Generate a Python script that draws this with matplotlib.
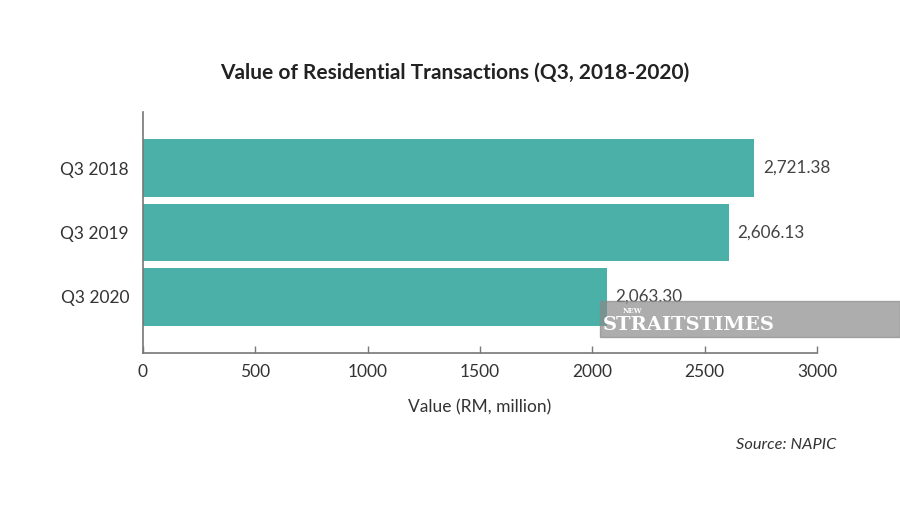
import matplotlib.pyplot as plt
from matplotlib.patches import Rectangle

plt.rcParams['font.family'] = ['Lato', 'DejaVu Sans']

quarters = ["Q3 2018", "Q3 2019", "Q3 2020"]
values = [2721.38, 2606.13, 2063.30]
value_labels = ["2,721.38", "2,606.13", "2,063.30"]
xticks = [0, 500, 1000, 1500, 2000, 2500, 3000]

bar_color = "#4AB0A8"
text_color = "#333333"

fig = plt.figure(figsize=(9, 5.14), dpi=100)
ax = fig.add_axes([143/900, 1 - 353/514, (817 - 143)/900, (353 - 112)/514])

ypos = list(range(len(quarters)))
ax.barh(ypos, values, height=0.9, color=bar_color)

for y, v, lab in zip(ypos, values, value_labels):
    ax.text(v + 40, y, lab, va="center", ha="left", fontsize=12.3, color="#444444")

ax.set_yticks(ypos)
ax.set_yticklabels(quarters, fontsize=12.5, color=text_color)
ax.set_ylim(2.87, -0.87)
ax.set_xlim(0, 3000)
ax.set_xticks(xticks)
ax.set_xticklabels([str(t) for t in xticks], fontsize=12.5, color=text_color)

ax.tick_params(axis="y", length=0, pad=10)
ax.tick_params(axis="x", direction="in", length=5, width=1, color="#777777", pad=8)

for s in ["top", "right"]:
    ax.spines[s].set_visible(False)
for s in ["left", "bottom"]:
    ax.spines[s].set_color("#777777")
    ax.spines[s].set_linewidth(1.2)

ax.set_xlabel("Value (RM, million)", fontsize=12.5, color=text_color, labelpad=14)

fig.text(455/900, 1 - 73/514, "Value of Residential Transactions (Q3, 2018-2020)",
         ha="center", va="center", fontsize=15, fontweight="bold", color="#222222")
fig.text(836/900, 1 - 445/514, "Source: NAPIC", ha="right", va="center",
         fontsize=11.8, style="italic", color=text_color)

# watermark
fig.patches.append(Rectangle((600/900, 1 - 337/514), 300/900, 36/514,
                             transform=fig.transFigure, color="#8a8a8a", alpha=0.7,
                             zorder=5))
fig.text(603/900, 1 - 325/514, "STRAITSTIMES", ha="left", va="center",
         fontsize=14, fontweight="bold", family="DejaVu Serif", color="white", zorder=6)
fig.text(623/900, 1 - 311/514, "NEW", ha="left", va="center",
         fontsize=5, fontweight="bold", family="DejaVu Serif", color="white", zorder=6)

plt.savefig("out.png", dpi=100)
